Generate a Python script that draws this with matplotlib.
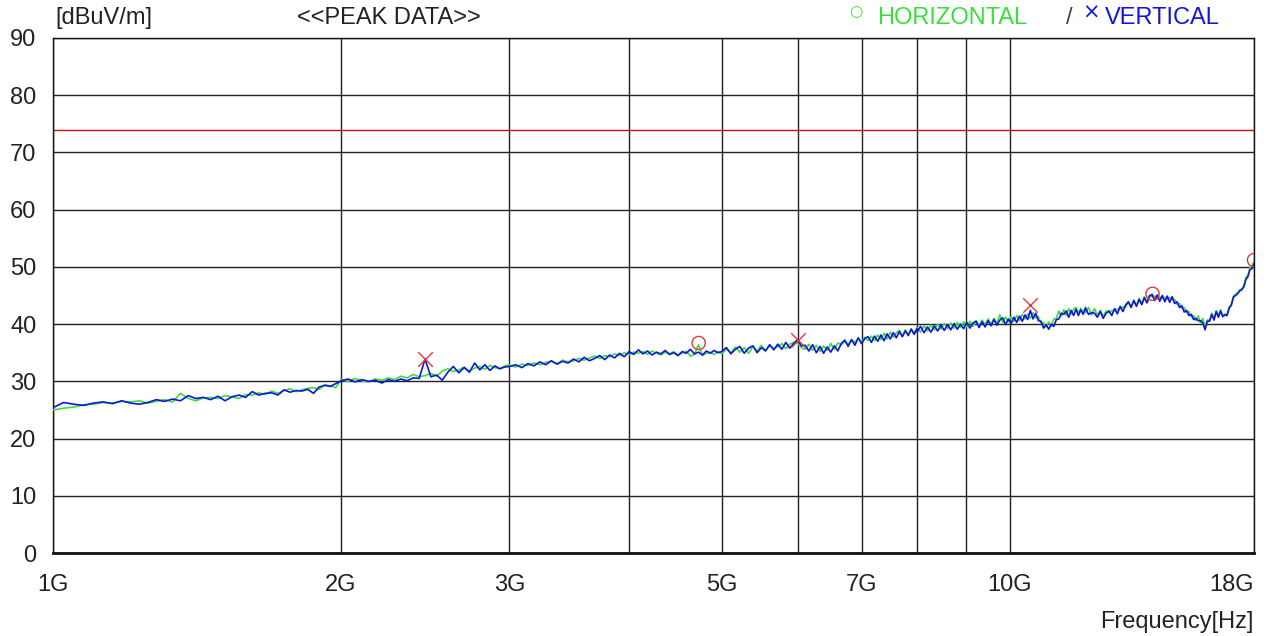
import numpy as np
import matplotlib
matplotlib.use("Agg")
import matplotlib.pyplot as plt
from matplotlib.ticker import FixedLocator, NullFormatter

plt.rcParams['font.family'] = ['Liberation Sans', 'DejaVu Sans']

# sweep segments [GHz]; each level list is spread evenly over its segment
SEG_EDGES = [1.0, 2.0, 3.0, 5.0, 8.0, 12.0, 18.0]

# HORIZONTAL trace (dBuV/m)
H_1_2G = [25.0, 25.3, 25.5, 25.9, 26.0, 26.3, 26.2, 26.5, 26.4, 26.6,
          26.2, 26.5, 26.8, 26.4, 27.9, 27.0, 26.6, 27.1, 27.2, 27.0,
          27.5, 27.3, 27.0, 27.7, 27.6, 28.0, 27.7, 28.3, 27.9, 28.4,
          28.7, 28.2, 28.5, 28.8, 28.9, 28.6, 29.4, 29.2, 28.9, 30.3]
H_2_3G = [30.3, 30.0, 30.5, 30.1, 29.9, 30.4, 30.2, 30.6, 30.3, 30.9,
          30.6, 31.2, 30.8, 31.0, 31.4, 30.9, 31.8, 32.2, 31.7, 32.0,
          32.5, 31.8, 32.3, 32.6, 32.1, 32.8, 32.4, 32.2, 32.7, 32.9]
H_3_5G = [32.8, 32.5, 33.0, 32.8, 33.2, 32.9, 33.3, 33.5, 33.1, 33.7,
          33.4, 33.6, 34.0, 33.7, 34.1, 34.4, 34.0, 34.5, 34.3, 34.8,
          34.5, 35.0, 34.6, 35.1, 34.9, 35.2, 34.7, 35.3, 34.9, 34.6,
          35.1, 34.8, 35.2, 34.6, 34.9, 35.3, 34.4, 34.7, 36.4, 34.5,
          34.9, 35.1, 34.7, 35.2, 34.9]
H_5_8G = [34.8, 35.7, 35.0, 36.0, 35.1, 35.9, 34.9, 36.1, 35.3, 36.3,
          35.4, 36.2, 35.8, 36.0, 36.6, 35.7, 36.5, 36.8, 36.7, 35.9,
          35.6, 36.5, 35.4, 36.3, 35.2, 36.2, 35.4, 36.6, 35.6, 36.7,
          36.4, 37.0, 36.5, 37.2, 36.8, 37.5, 36.8, 37.7, 37.1, 37.9,
          37.1, 38.1, 37.3, 38.4, 37.4, 38.6, 37.7, 38.5, 38.9, 37.9,
          39.0, 38.2, 39.2, 38.4, 39.4]
H_8_12G = [39.3, 38.6, 39.7, 38.8, 39.8, 39.0, 40.0, 39.1, 40.1, 39.2,
           40.2, 39.3, 40.3, 39.4, 40.4, 39.5, 40.5, 39.6, 40.6, 39.8,
           40.7, 39.9, 40.9, 40.0, 41.0, 40.1, 41.6, 40.3, 41.2, 40.4,
           41.3, 40.5, 41.5, 40.6, 41.7, 40.9, 41.8, 41.0, 42.0, 41.1,
           41.3, 40.2, 40.3, 39.5, 40.4, 39.6, 40.9, 41.0, 42.3, 41.4,
           42.5, 41.5, 42.7, 41.8, 42.6, 42.9, 41.9, 42.8, 42.0, 43.0]
H_12_18G = [42.0, 42.9, 41.6, 42.7, 41.5, 42.4, 41.3, 42.3, 42.0, 42.4,
            42.3, 42.6, 42.7, 43.0, 43.0, 43.8, 43.1, 44.2, 43.3, 44.5,
            43.6, 44.8, 43.9, 45.1, 44.7, 44.9, 44.6, 44.8, 44.5, 44.7,
            44.4, 44.6, 44.3, 44.3, 43.5, 43.6, 42.8, 42.9, 42.0, 42.2,
            41.3, 41.5, 40.6, 41.4, 40.2, 41.0, 39.5, 40.7, 40.7, 41.9,
            40.9, 42.3, 41.4, 42.5, 41.5, 41.8, 41.7, 43.0, 43.5, 44.9,
            45.2, 45.5, 46.0, 46.2, 46.7, 48.1, 48.6, 49.9, 50.0, 51.0]

# VERTICAL trace (dBuV/m)
V_1_2G = [25.4, 26.3, 26.0, 25.8, 26.2, 26.4, 26.1, 26.6, 26.2, 26.0,
          26.3, 26.8, 26.5, 26.9, 26.6, 27.5, 27.0, 27.2, 26.8, 27.4,
          26.6, 27.3, 27.6, 27.2, 28.2, 27.6, 27.9, 28.0, 27.6, 28.5,
          28.1, 28.4, 28.3, 28.6, 27.9, 29.0, 29.3, 29.1, 29.6, 30.0]
V_2_3G = [30.1, 30.4, 29.9, 30.3, 30.0, 30.2, 29.7, 30.3, 30.0, 30.4,
          30.1, 30.6, 30.5, 33.9, 30.8, 31.1, 30.2, 31.6, 32.6, 31.5,
          32.4, 31.6, 33.2, 32.0, 32.9, 31.9, 32.7, 32.2, 32.5, 32.6]
V_3_5G = [32.6, 32.9, 32.4, 33.1, 32.7, 33.4, 32.9, 33.6, 33.0, 33.5,
          33.2, 33.9, 33.4, 34.2, 33.6, 34.0, 34.5, 33.8, 34.6, 34.1,
          34.9, 34.3, 35.2, 34.7, 35.5, 34.8, 35.3, 34.6, 35.1, 34.8,
          35.4, 34.7, 35.0, 34.5, 35.2, 34.9, 35.6, 34.8, 35.1, 34.6,
          35.3, 34.9, 35.4, 35.0, 35.2]
V_5_8G = [35.2, 35.9, 34.8, 35.6, 36.1, 34.9, 35.8, 36.2, 35.0, 35.9,
          35.3, 36.4, 35.5, 36.5, 35.6, 36.8, 35.8, 36.6, 37.3, 36.2,
          36.3, 35.3, 36.4, 35.0, 36.1, 34.9, 36.0, 35.1, 36.2, 35.3,
          36.6, 37.2, 36.1, 37.3, 36.3, 37.6, 36.6, 37.5, 37.8, 36.8,
          37.9, 37.0, 38.1, 37.1, 38.3, 37.4, 38.5, 37.6, 38.7, 37.8,
          38.8, 38.0, 39.1, 38.2, 39.2]
V_8_12G = [38.6, 39.6, 38.5, 39.5, 38.6, 39.7, 38.8, 39.8, 38.9, 39.9,
           39.0, 40.1, 39.1, 40.0, 39.2, 40.3, 39.3, 40.2, 40.5, 39.4,
           40.4, 39.5, 40.6, 39.7, 40.8, 39.8, 40.7, 41.1, 39.9, 40.9,
           40.1, 41.2, 40.3, 41.4, 40.5, 41.6, 40.8, 42.4, 40.9, 41.9,
           40.6, 40.5, 39.3, 39.9, 39.1, 40.0, 39.6, 40.8, 40.9, 41.9,
           41.7, 42.3, 41.2, 42.4, 41.5, 42.6, 41.5, 42.5, 41.7, 42.8]
V_12_18G = [42.8, 41.7, 42.0, 41.9, 41.2, 42.2, 41.0, 41.9, 42.3, 41.5,
            42.7, 41.8, 43.1, 42.2, 43.4, 43.9, 42.9, 44.1, 43.1, 44.3,
            43.4, 44.6, 43.7, 44.9, 45.2, 44.1, 45.1, 44.0, 45.0, 43.9,
            44.9, 43.8, 44.8, 43.6, 43.9, 42.9, 43.2, 42.1, 42.4, 41.5,
            41.7, 40.8, 41.0, 40.6, 40.6, 40.2, 39.0, 40.5, 40.5, 41.7,
            40.7, 42.2, 41.2, 42.3, 41.3, 41.6, 41.5, 42.8, 43.3, 44.7,
            45.0, 45.3, 45.8, 46.0, 46.5, 47.8, 48.3, 49.5, 49.7, 50.6]

H_SEGS = [H_1_2G, H_2_3G, H_3_5G, H_5_8G, H_8_12G, H_12_18G]
V_SEGS = [V_1_2G, V_2_3G, V_3_5G, V_5_8G, V_8_12G, V_12_18G]

# peak markers
H_PEAK_F = [4.73, 14.1, 18.0]
H_PEAK_L = [36.7, 45.3, 51.2]
V_PEAK_F = [2.45, 6.0, 10.51]
V_PEAK_L = [33.9, 37.2, 43.4]

LIMIT = 74.0
XTICKS = [1, 2, 3, 5, 7, 10, 18]
XGRID_MINOR = [4, 6, 8, 9]


def build(segs):
    f, lv = [], []
    for i, s in enumerate(segs):
        f.append(np.linspace(SEG_EDGES[i], SEG_EDGES[i + 1], len(s)))
        lv.append(np.array(s))
    return np.concatenate(f), np.concatenate(lv)


h_f, h_l = build(H_SEGS)
v_f, v_l = build(V_SEGS)

fig = plt.figure(figsize=(12.68, 6.36), dpi=100)
ax = fig.add_axes([53 / 1268, 1 - 553 / 636, (1254 - 53) / 1268, (553 - 38) / 636])

green = '#38e038'
blue = '#1414dc'
red = '#e03a3a'

ax.plot(h_f, h_l, color=green, lw=1.2, zorder=3)
ax.plot(v_f, v_l, color=blue, lw=1.2, zorder=4)
ax.axhline(LIMIT, color='#d01010', lw=1.0, zorder=2)

ax.scatter(H_PEAK_F, H_PEAK_L, s=90, facecolors='none', edgecolors=red, linewidths=1.0, zorder=5)
ax.scatter(V_PEAK_F, V_PEAK_L, s=110, marker='x', color=red, linewidths=1.0, zorder=5)

ax.set_xscale('log')
ax.set_xlim(1, 18)
ax.set_ylim(0, 90)
ax.xaxis.set_major_locator(FixedLocator(XTICKS))
ax.xaxis.set_minor_locator(FixedLocator(XGRID_MINOR))
ax.xaxis.set_minor_formatter(NullFormatter())
ax.set_xticklabels(['%dG' % t for t in XTICKS])
ax.get_xticklabels()[-1].set_ha('right')
ax.set_yticks(range(0, 91, 10))
ax.grid(True, which='both', color='#222222', lw=1.0, zorder=1)
ax.tick_params(which='both', length=0, labelsize=17, colors='#222222')
ax.tick_params(axis='y', pad=12)
ax.tick_params(axis='x', pad=15)
for s in ax.spines.values():
    s.set_color('#111111')
    s.set_linewidth(1.0)
ax.spines['bottom'].set_linewidth(2.0)

fs = 17
fig.text(55 / 1268, 1 - 18 / 636, '[dBuV/m]', fontsize=fs, color='#222222', va='center', ha='left')
fig.text(297 / 1268, 1 - 18 / 636, '<<PEAK DATA>>', fontsize=fs, color='#222222', va='center', ha='left')
fig.text(856 / 1268, 1 - 12 / 636, '\u25cb', fontsize=11, color=green, va='center', ha='center',
         family='DejaVu Sans')
fig.text(877 / 1268, 1 - 18 / 636, 'HORIZONTAL', fontsize=fs, color=green, va='center', ha='left')
fig.text(1066 / 1268, 1 - 18 / 636, '/', fontsize=fs, color='#444444', va='center', ha='left')
fig.text(1091 / 1268, 1 - 13 / 636, '\u00d7', fontsize=15, color=blue, va='center', ha='center',
         family='DejaVu Sans')
fig.text(1105 / 1268, 1 - 18 / 636, 'VERTICAL', fontsize=fs, color=blue, va='center', ha='left')
fig.text(1254 / 1268, 1 - 622 / 636, 'Frequency[Hz]', fontsize=fs, color='#222222', va='center', ha='right')

fig.savefig('out.png', dpi=100)
